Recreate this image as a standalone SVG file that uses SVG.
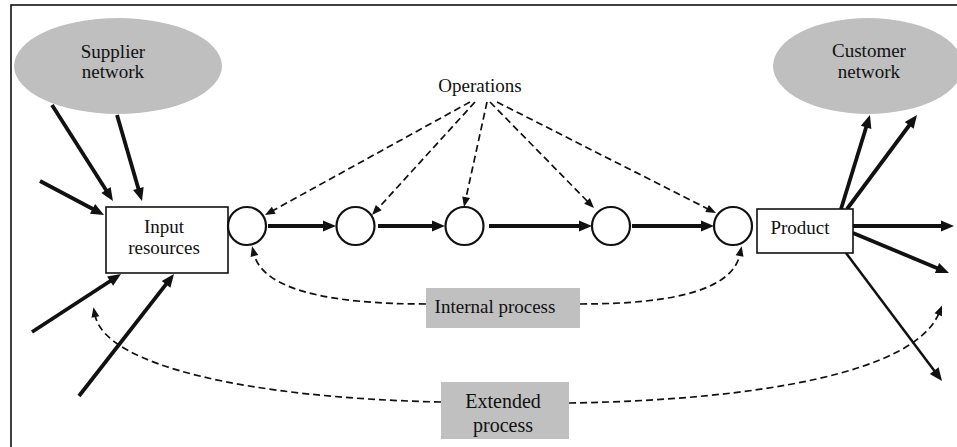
<svg xmlns="http://www.w3.org/2000/svg" width="957" height="447" viewBox="0 0 957 447">
<defs>
<style>
text{font-family:"Liberation Serif","Times New Roman",serif;fill:#111;text-anchor:middle}
.t{font-size:19px}
.net{fill:#bfbfbf;stroke:none}
.box{fill:#fff;stroke:#111;stroke-width:1.6}
.gbox{fill:#c0c0c0;stroke:none}
.op{fill:#fff;stroke:#111;stroke-width:2.2}
.sol{stroke:#111;stroke-width:3.8;fill:none;marker-end:url(#ah)}
.thin{stroke:#111;stroke-width:2.5;fill:none;marker-end:url(#ah)}
.dash{stroke:#111;stroke-width:1.7;fill:none;stroke-dasharray:7 4;marker-end:url(#dh)}
</style>
<marker id="ah" markerUnits="userSpaceOnUse" markerWidth="13" markerHeight="11" refX="3" refY="5.5" orient="auto" overflow="visible">
<path d="M0,0 L13,5.5 L0,11 z" fill="#111"/>
</marker>
<marker id="dh" markerUnits="userSpaceOnUse" markerWidth="10" markerHeight="8" refX="2" refY="4" orient="auto" overflow="visible">
<path d="M0,0 L10,4 L0,8 z" fill="#111"/>
</marker>
</defs>
<rect x="11" y="5" width="960" height="460" fill="#fff" stroke="#111" stroke-width="1.6"/>

<g id="connectors">
<line class="sol" x1="52" y1="105" x2="107.6" y2="192.6"/>
<line class="sol" x1="117" y1="115" x2="139.2" y2="191.4"/>
<line class="sol" x1="40" y1="181" x2="95.2" y2="210.3"/>
<line class="sol" x1="32" y1="332" x2="112.6" y2="279.5"/>
<line class="sol" x1="79" y1="396" x2="167.9" y2="281.9"/>
<line class="sol" x1="268" y1="226" x2="326" y2="226"/>
<line class="sol" x1="378" y1="226" x2="435" y2="226"/>
<line class="sol" x1="489" y1="226" x2="582" y2="226"/>
<line class="sol" x1="632" y1="226" x2="704" y2="226"/>
<line class="sol" x1="853" y1="226" x2="944" y2="226"/>
<line class="sol" x1="853" y1="233" x2="939.8" y2="269.2"/>
<line class="sol" x1="841" y1="209" x2="867" y2="124.5"/>
<line class="sol" x1="847" y1="209" x2="911" y2="123"/>
<line class="thin" x1="846" y1="253" x2="936" y2="373"/>
<line class="dash" x1="470" y1="102" x2="272" y2="211.1"/>
<line class="dash" x1="475" y1="102" x2="377.4" y2="209.1"/>
<line class="dash" x1="487" y1="102" x2="465.7" y2="199.2"/>
<line class="dash" x1="490" y1="102" x2="588.4" y2="202.3"/>
<line class="dash" x1="497" y1="102" x2="708.9" y2="209.4"/>
<path class="dash" d="M426,304 C330,304 263,290 254,254"/>
<path class="dash" d="M580,304 C680,304 733,288 740,254"/>
<path class="dash" d="M441,402 C250,398 105,366 95,315"/>
<path class="dash" d="M569,403 C760,400 915,372 939,313"/>
</g>

<g id="supplier">
<ellipse class="net" cx="118" cy="66" rx="104" ry="48"/>
<text class="t" x="113" y="58">Supplier</text>
<text class="t" x="113" y="78">network</text>
</g>
<g id="customer">
<ellipse class="net" cx="868" cy="66" rx="95" ry="48"/>
<text class="t" x="869" y="57">Customer</text>
<text class="t" x="869" y="78">network</text>
</g>
<g id="operations">
<text class="t" x="480" y="92">Operations</text>
</g>
<g id="input">
<rect class="box" x="106" y="207" width="122" height="66"/>
<text class="t" x="164" y="233">Input</text>
<text class="t" x="164" y="254">resources</text>
</g>
<g id="op1"><circle class="op" cx="247" cy="226" r="19"/></g>
<g id="op2"><circle class="op" cx="355.5" cy="226" r="19"/></g>
<g id="op3"><circle class="op" cx="464.5" cy="226" r="19"/></g>
<g id="op4"><circle class="op" cx="611" cy="226" r="19"/></g>
<g id="op5"><circle class="op" cx="733" cy="226" r="19"/></g>
<g id="product">
<rect class="box" x="757" y="209" width="96" height="44"/>
<text class="t" x="800" y="234">Product</text>
</g>
<g id="internal">
<rect class="gbox" x="426" y="288" width="154" height="40"/>
<text x="495" y="313" style="font-size:19px">Internal process</text>
</g>
<g id="extended">
<rect class="gbox" x="441" y="382" width="128" height="57"/>
<text x="503" y="408" style="font-size:20px">Extended</text>
<text x="503" y="432" style="font-size:20px">process</text>
</g>
</svg>
